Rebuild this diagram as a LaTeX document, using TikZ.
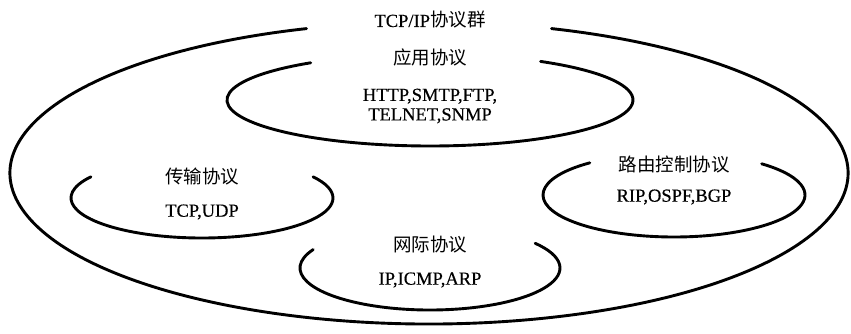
\documentclass[tikz,border=0pt]{standalone}
\usepackage{fontspec}
\setmainfont{Liberation Serif}[FakeBold=0.4]
\newfontfamily\cjk{Noto Sans CJK SC}
\usetikzlibrary{calc}
\begin{document}
\begin{tikzpicture}[x=1pt,y=1pt,
  ring/.style={line width=2.9pt, line cap=round},
  lbl/.style={font=\fontsize{18.5}{19.5}\selectfont, inner sep=0pt, align=center}]
\useasboundingbox (0,0) rectangle (851,-334);
% outer ellipse (TCP/IP suite)
\coordinate (co) at (429,-173);
\draw[ring] ($(co)+(107:419 and 151)$) arc[start angle=107, end angle=433, x radius=419, y radius=151];
% application
\coordinate (ca) at (430,-100);
\draw[ring] ($(ca)+(126:203 and 46)$) arc[start angle=126, end angle=417, x radius=203, y radius=46];
% transport
\coordinate (ct) at (202,-198);
\draw[ring] ($(ct)+(148:131 and 40)$) arc[start angle=148, end angle=392, x radius=131, y radius=40];
% internet
\coordinate (cn) at (430,-268);
\draw[ring] ($(cn)+(154:130 and 42)$) arc[start angle=154, end angle=396, x radius=130, y radius=42];
% routing
\coordinate (cr) at (674,-195);
\draw[ring] ($(cr)+(130:131 and 42)$) arc[start angle=130, end angle=408, x radius=131, y radius=42];
% labels
\node[lbl] (tsuite) at (430,-20) {TCP/IP{\cjk 协议群}};
\node[lbl] (tapp) at (430,-57) {{\cjk 应用协议}};
\node[lbl] (tappp) at (430,-106) {HTTP,SMTP,FTP,\\TELNET,SNMP};
\node[lbl] (ttr) at (202,-177) {{\cjk 传输协议}};
\node[lbl] (ttrp) at (202,-212) {TCP,UDP};
\node[lbl] (tnet) at (430,-245) {{\cjk 网际协议}};
\node[lbl] (tnetp) at (430,-280) {IP,ICMP,ARP};
\node[lbl] (trt) at (674,-165) {{\cjk 路由控制协议}};
\node[lbl] (trtp) at (674,-197) {RIP,OSPF,BGP};
\end{tikzpicture}
\end{document}
